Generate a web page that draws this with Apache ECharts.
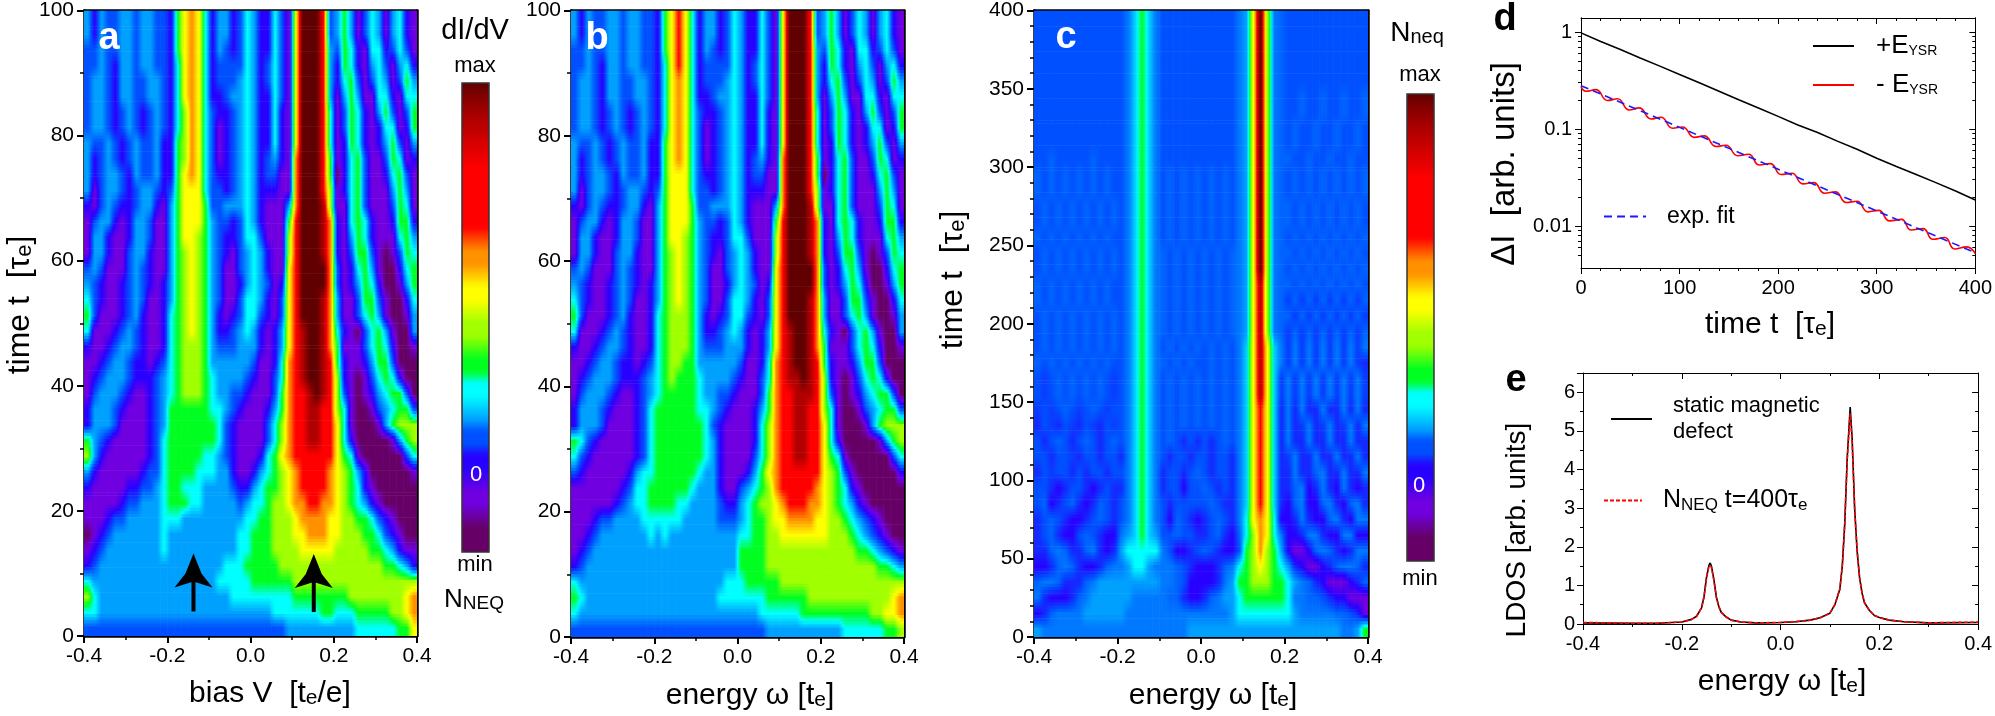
<!DOCTYPE html>
<html><head><meta charset="utf-8">
<script src="https://cdn.jsdelivr.net/npm/echarts@6/dist/echarts.min.js"></script>
<style>html,body{margin:0;padding:0;background:#fff}#c{width:1995px;height:716px}</style>
</head><body><div id="c"></div>
<script>
// Colour levels: 0 purple ... 5 cyan, 6 green, 8 yellow, 10 red, 12 darkest red.
const levelColors = ['#660066','#7000e0','#2800ff','#0050ff','#00a0ff','#00ffff','#00ff20','#a0ff00','#ffff00','#ff9000','#ff0000','#b00000','#600000'];
const levelChars = {A:10,B:11,C:12,a:2.5,b:3.5,c:4.5,d:2.75,e:3.25};
const barLevels = [0,0,0,0.5,1,1,1.5,2,2,3,3,4,4.5,5,5,6,6,6.5,7,7,7.5,8,8,8.5,9,9,9.5,10,10,10,10,10,10,10.3,10.5,10.8,11,11.3,11.6,12];

const heatA = [
'424334 434433 268985 244235 422531 8CCCA3 464135 414521',
'424334 434433 268985 244235 422531 8CCCA3 464135 414521',
'334334 434433 268985 243235 422531 8CCCA4 365215 523531',
'334324 434433 258985 233335 423531 8CCCA4 265214 531452',
'344324 433443 258985 233345 423531 8CCCA4 256313 541364',
'344324 433443 258985 223445 422531 8CCCA4 146411 552155',
'344323 432343 257985 322345 422521 8CCCA5 136521 463136',
'344323 432343 257985 312345 422521 8CCCA5 136521 255126',
'433432 343342 267985 312345 422521 8CCCA5 126521 246314',
'423432 343342 267985 312345 423421 9CCCA6 125631 136512',
'423443 243342 268985 322345 423311 9CCCA6 025631 125631',
'413443 234432 368885 332345 422211 9CCCA7 125631 114641',
'213432 234421 468886 334445 421114 9CCCB7 115631 113651',
'134421 244311 468886 433235 421116 ACCCB9 215652 112662',
'144211 244311 468876 432235 531117 ACCCB9 214652 111564',
'144211 344211 467876 432134 542117 ACCCB9 213663 101365',
'343111 343211 467876 431134 542118 ACCCC9 312564 100256',
'432112 343212 467876 431124 543128 ACCCC9 312465 200146',
'532112 343112 467876 431135 542138 ACCCB9 411366 310025',
'631112 342112 567876 421235 532138 ACCCB9 411356 410014',
'511123 432112 567876 422345 421248 ABCCB9 521035 641004',
'211234 432112 567776 433344 421248 ABCCB9 611135 652001',
'112344 322123 567776 444444 311259 ABCCBA 621124 663000',
'123444 322234 567776 544443 211359 ABCCBA 721013 565200',
'134443 211234 567776 544332 111369 AABCBA 731012 456630',
'244432 111234 666666 554321 112469 AABBAA 751001 345663',
'244431 111234 666666 653211 113579 AABBAA 851000 146777',
'643211 111235 666666 653211 113579 AABBAA 852000 001467',
'742111 111235 666665 543211 125689 AAAAAA 865100 000035',
'421111 112335 666655 544211 245678 9AAAA9 876420 000001',
'211111 223345 665554 444322 456678 9AAAA9 876521 000000',
'111112 334445 666554 444434 556778 99AA99 876542 100000',
'111233 444445 554444 444445 566777 899998 877665 321000',
'012344 444445 444444 444455 666777 889998 877766 532100',
'123444 444445 444444 444455 666777 788888 777776 654211',
'234444 444444 444444 445556 666677 777777 777777 766542',
'544444 444444 444444 455555 666666 777777 777777 777777',
'754444 444444 444444 444555 555555 666666 667777 777789',
'554444 444444 444444 444444 444555 555566 555666 667789',
'333333 333333 333333 333333 333334 444444 444555 555668'
];

const heatB = [
'424334 434433 268A85 244235 422531 8CCCA3 464135 414521',
'424334 434433 268A85 244235 422531 8CCCA3 464135 414521',
'334334 434433 268A85 243235 422531 8CCCA4 365215 523531',
'334324 434433 258A85 233335 423531 8CCCA4 265214 531452',
'344324 433443 258985 233345 423531 8CCCA4 256313 541364',
'344324 433443 258985 223445 422531 8CCCA4 146411 552155',
'344323 432343 258985 322345 422521 8CCCA5 136521 463136',
'344323 432343 258985 312345 422521 8CCCA5 136521 255126',
'433432 343342 268985 312345 422521 8CCCA5 126521 246314',
'423432 343342 268985 312345 423421 9CCCA6 125631 136512',
'423443 243342 268885 322345 423311 9CCCA6 025631 125631',
'413443 234432 368885 332345 422211 9CCCA7 125631 114641',
'213432 234421 468886 334445 421114 9CCCB7 115631 113651',
'134421 244311 468886 433235 421116 ACCCB9 215652 112662',
'144211 244311 468876 432235 531117 ACCCB9 214652 111564',
'144211 344211 467876 432134 542117 ACCCB9 213663 101365',
'343111 343211 467876 431134 542118 ACCCC9 312564 100256',
'432112 343212 467876 431124 543128 ACCCC9 312465 200146',
'532112 343112 467876 431135 542138 ACCCB9 411366 310025',
'631112 342112 567776 421235 532138 ACCCB9 411356 410014',
'511123 432112 567776 422345 421248 ABCCB9 521035 641004',
'211234 432112 567776 433344 421248 ABCCB9 611135 652001',
'112344 322123 567766 444444 311259 ABCCBA 621124 663000',
'123444 322234 567666 544443 211359 ABBCBA 721013 565200',
'134443 211234 566666 544332 111369 AABBBA 731012 456630',
'244432 111235 666666 554321 112469 AABBAA 751001 345663',
'244431 111235 666666 653211 112579 AABBAA 851000 146777',
'653211 111235 666666 654211 112579 AABBAA 852000 001467',
'532111 111235 666666 654211 113579 AABBAA 865100 000035',
'321111 112455 666666 544211 124689 AAAAAA 876310 000002',
'111111 123556 666665 444211 345679 AAAAA9 876521 000000',
'111111 234556 666554 444322 456778 9AAA99 876542 100000',
'111233 444455 555544 444333 456678 899998 877654 321000',
'112344 444445 454444 444444 556677 888888 877765 432100',
'123444 444444 444444 444444 666677 777777 777776 654321',
'234444 444444 444444 444444 666677 777777 777777 776654',
'544444 444444 444444 444455 566666 777777 777777 777777',
'654444 444444 444444 444555 555566 666677 777777 777789',
'544444 444444 444444 444444 444555 555666 666666 677889',
'333333 333333 333333 333333 333344 444444 444555 555667'
];

const heatC = [
'333333 333333 3bc6cb 333333 33333b 48C7be 333333 333333',
'333333 333333 3bc6cb 333333 33333b 48C7be 333333 333333',
'333333 333333 3bc6cb 333333 33333b 48C7be 333333 333333',
'333333 333333 3bc6cb 333333 33333b 48C7be 333333 333333',
'333333 333333 3bc6cb 333333 33333b 48C7be 333333 333333',
'333333 333333 3bc6cb 333333 33333b 48C7be 33e33e 33e33e',
'333333 333333 3bc6cb 333333 33333b 48C7be 33e33e 33e33e',
'333333 333333 3bc6cb 333333 33333b 48C7be 3e33e3 3e33e3',
'333333 333333 3bc6cb 333333 33333b 48C7be 3e33e3 3e33e3',
'33e333 33e333 3bc6cb 333333 33333b 48C7be e33e33 e33e33',
'e3e3e3 e3e3e3 3bc6cb 3e3e3e 3e3e3b 48C7be 3e3e3e 3e3e3e',
'e3e3e3 e3e3e3 3bc6cb 3e3e3e 3e3e3b 48C7be 3e3e3e 3e3e3e',
'3e3e3e 3e3e3e 3bc6cb 3e3e3e 3e3e3b 48C7be e3e3e3 e3e3e3',
'3e3e3e 3e3e3e 3bc6cb 3e3e3e 3e3e3b 48C7be e3e3e3 e3e3e3',
'e3e3e3 e3e3e3 3bc6cb 3e3e3e 3e3e3b 48C7be 3e3e3e 3e3e3e',
'3e3e3e 3e3e3e 3bc6cb e3e3e3 e3e3eb 48C7be e3e3e3 e3e3e3',
'3e3e3e 3e3e3e 3bc6cb e3e3e3 e3e3eb 48C7be 3e3e3e 3e3e3e',
'e3e3e3 e3e3e3 3bc6cb e3e3e3 e3e3eb 48B7be e3e3e3 e3e3e3',
'e3e3e3 e3e3e3 3bc6cb e3e3e3 e3e3eb 48B7be dedede dedede',
'3e3e3e 3e3e3e 3bc6cb e3e3e3 e3e3eb 48B7be ededed ededed',
'3e3e3e 3e3e3e 3bc6cb e3e3e3 e3e3eb 48B7be dedede dedede',
'3e3e3e 3e3e3e 3bc6cb 3e3e3e 3e3e3b c8B8cb dbdbdb dbdbdb',
'e3e3e3 e3e3e3 3bc6cb e3e3e3 3e3e3b c8B8cb dbdbdb dbdbda',
'3d3e3e 3e3e3d 3bc6cb 3e3e3e 3e3e3b c8B8cd bdbdbd bdbdbd',
'3d3e3e 3e3e3d 3bc6cb 3e3e3e 3e3e3b c8B8cd bdbdbd bdbdbd',
'd3d3e3 d3e3d3 3bc6cb 3e3e3e 3e3e3b c8A8ca babaab aababa',
'a3da3d a3da3d 3bc6cb 3e3e3e 3e3e3b c8A8ca badbad badbab',
'3a3e3a 3e3a3e 3bc6cb 3e3a3a 3a3e3b c8A8ca baabaa baabaa',
'33a33d a33a33 abc6cb 3a33a3 3a33ab c8A8ca dbaaba abaaba',
'a3d33a 3a33a3 3bc6cb a33a3e 3a33ab c8A8ca abaaeb aabaab',
'33a2a3 3a2a3a abc6cb a33233 e3a3ab c8A8ca aeb2ab a2ba2a',
'3e2a3e a2ae3a 3bc6cb 3a3333 3e3aab c8A8ca 2eb22e ba2eba',
'a3e3a2 2a3e3a 3bc6cb 32e3a2 a3e3ab 589852 2aba22 eba2bb',
'a3ea22 3e3a22 b4c6c4 33e33a a3ea2e 57985b 22abba 22bb22',
'aaebea aeba2a 455555 b322a3 e3a223 679764 2112eb ea2abb',
'22aebe a22aeb b4554b bbe3a2 22aeb5 678765 4a2112 aebbea',
'ebbeaa aeb444 444444 bbe322 22ab46 677766 54bea2 1112ae',
'ba222a eb4444 44bbbb beea22 aeb445 666666 5bbee3 a22111',
'2aebbb b44444 4bbbbb bbbbbb bbbb45 555555 54bbbb bee3a1',
'4bbbbb bbbbbb bbbbbb bbbb44 444444 444444 444444 44bb46'
];

const tickLabelsLog = [1, 0.1, 0.01];
const logMinorTicks = [0.005,0.006,0.007,0.008,0.009,0.02,0.03,0.04,0.05,0.06,0.07,0.08,0.09,0.2,0.3,0.4,0.5,0.6,0.7,0.8,0.9];

const dBlackT = [0,20,40,60,80,100,120,140,160,180,200,220,240,260,280,300,320,340,360,380,400];
const dBlackV = [0.98,0.80,0.66,0.54,0.445,0.365,0.30,0.245,0.20,0.165,0.135,0.11,0.092,0.075,0.062,0.05,0.041,0.034,0.028,0.023,0.0185];
const dRedT = [0,5,15,27,37,49,59,71,81,93,103,115,125,137,147,159,170,181,192,203,214,225,236,247,258,269,280,291,302,313,325,335,347,357,369,379,391,400];
const dRedV = [0.275,0.245,0.255,0.197,0.205,0.157,0.165,0.127,0.132,0.102,0.105,0.082,0.085,0.066,0.068,0.053,0.055,0.0425,0.044,0.034,0.035,0.0272,0.028,0.0218,0.0225,0.0175,0.018,0.014,0.0145,0.0113,0.0117,0.0091,0.0094,0.0073,0.0076,0.0058,0.0061,0.0052];
const dFitT = [0,100,200,300,400];
const dFitV = [0.28,0.104,0.0385,0.0143,0.0053];

const eX = [-0.4,-0.3,-0.25,-0.2,-0.18,-0.17,-0.16,-0.155,-0.15,-0.145,-0.1425,-0.14,-0.135,-0.13,-0.125,-0.12,-0.11,-0.1,-0.08,-0.05,0,0.03,0.06,0.08,0.1,0.11,0.12,0.125,0.13,0.135,0.141,0.145,0.15,0.155,0.16,0.165,0.17,0.18,0.19,0.2,0.22,0.25,0.3,0.4];
const eBlack = [0.03,0.02,0.02,0.05,0.12,0.2,0.42,0.7,1.2,1.52,1.58,1.5,1.15,0.7,0.45,0.3,0.18,0.1,0.05,0.03,0.04,0.06,0.1,0.16,0.28,0.5,0.9,1.5,2.6,4.3,5.62,4.8,3.0,1.9,1.2,0.8,0.55,0.35,0.22,0.17,0.1,0.06,0.03,0.04];
const eRed = [0.04,0.02,0.02,0.05,0.12,0.2,0.42,0.7,1.18,1.5,1.55,1.48,1.13,0.7,0.45,0.3,0.18,0.1,0.05,0.03,0.04,0.06,0.1,0.16,0.28,0.5,0.9,1.5,2.6,4.25,5.45,4.7,3.0,1.9,1.2,0.8,0.55,0.35,0.22,0.17,0.1,0.06,0.03,0.05];

const arrowTips = [[-0.137,13.2],[0.152,13.1]];

function rgb(h){return [parseInt(h.slice(1,3),16),parseInt(h.slice(3,5),16),parseInt(h.slice(5,7),16)];}
const rgbs = levelColors.map(rgb);
function levelColor(v){
  v=Math.max(0,Math.min(12,v));const i=Math.min(11,Math.floor(v)),f=v-i,a=rgbs[i],b=rgbs[i+1];
  return 'rgb('+[0,1,2].map(k=>Math.round(a[k]+(b[k]-a[k])*f)).join(',')+')';
}
function parseRows(rows){
  return rows.map(s=>{
    const t=s.replace(/ /g,'');const o=[];
    for(let j=0;j<48;j++){const ch=t[j]!==undefined?t[j]:t[t.length-1];o.push(levelChars[ch]!==undefined?levelChars[ch]:+ch);}
    return o;
  });
}
const STRIPS=5;
function heatSeries(rows,gridIndex,xSpan,tMax){
  const g=parseRows(rows),nr=g.length,nc=48,dx=xSpan/nc,dy=tMax/nr,data=[];
  for(let r=0;r<nr;r++)for(let j=0;j<nc;j++)data.push([-xSpan/2+(j+.5)*dx,tMax*(1-(r+.5)/nr),g[r][j],r,j]);
  return {type:'custom',xAxisIndex:axisBase(gridIndex),yAxisIndex:axisBase(gridIndex),coordinateSystem:'cartesian2d',
    silent:true,animation:false,progressive:0,clip:true,z:1,data,encode:{x:0,y:1},
    renderItem(params,api){
      const x=api.value(0),y=api.value(1),r=api.value(3),j=api.value(4),children=[];
      for(let k=0;k<STRIPS;k++){
        const f=(k+.5)/STRIPS-.5;
        const at=jj=>{jj=Math.max(0,Math.min(nc-1,jj));const v=g[r][jj],n=(g[f<0?r-1:r+1]||g[r])[jj];return v+(n-v)*Math.abs(f);};
        const c=at(j),l=(at(j-1)+c)/2,q=(at(j+1)+c)/2;
        const p1=api.coord([x-dx/2,y+dy*(.5-k/STRIPS)]),p2=api.coord([x+dx/2,y+dy*(.5-(k+1)/STRIPS)]);
        children.push({type:'rect',shape:{x:p1[0],y:p1[1],width:p2[0]-p1[0]+.6,height:p2[1]-p1[1]+.6},
          style:{fill:new echarts.graphic.LinearGradient(0,0,1,0,[
            {offset:0,color:levelColor(l)},{offset:.25,color:levelColor((l+c)/2)},{offset:.5,color:levelColor(c)},
            {offset:.75,color:levelColor((c+q)/2)},{offset:1,color:levelColor(q)}])}});
      }
      return {type:'group',children};
    }};
}
const axisStart=[0,2,4,6,10];
function axisBase(g){return axisStart[g];}

const FONT='"Liberation Sans",Arial,sans-serif';
const grids=[
 {left:84,top:9,width:333,height:627},
 {left:571,top:10,width:333,height:627},
 {left:1034,top:10,width:334,height:627},
 {left:1581,top:18,width:397,height:250},
 {left:1583,top:373,width:397,height:251}
];
function xMain(g,min,max,interval,split,fs,thin){
  return {type:'value',gridIndex:g,position:'bottom',min,max,interval,splitLine:{show:false},
    axisLine:{show:true,onZero:false,lineStyle:{color:'#000',width:thin?1:2.5}},
    axisTick:{show:true,length:thin?6:7,lineStyle:{color:'#000',width:thin?1:2}},
    minorTick:{show:true,splitNumber:split,length:thin?3:4,lineStyle:{color:'#000',width:thin?1:1.5}},
    axisLabel:{show:true,fontFamily:FONT,fontSize:fs,color:'#000',margin:10,showMinLabel:true,showMaxLabel:true,hideOverlap:false,
      formatter:v=>interval<1?v.toFixed(1):String(v)}};
}
function xMirror(g,min,max,interval,split,thin){
  return {type:'value',gridIndex:g,position:'top',min,max,interval,splitLine:{show:false},
    axisLine:{show:true,onZero:false,lineStyle:{color:'#000',width:thin?1:2.5}},
    axisTick:{show:!!thin,inside:true,length:6,lineStyle:{color:'#000',width:1}},
    minorTick:{show:!!thin,splitNumber:split,length:3,lineStyle:{color:'#000',width:1}},
    axisLabel:{show:false}};
}
function yMain(g,min,max,interval,split,fs,thin){
  return {type:'value',gridIndex:g,position:'left',min,max,interval,splitLine:{show:false},
    axisLine:{show:true,onZero:false,lineStyle:{color:'#000',width:thin?1:2.5}},
    axisTick:{show:true,length:thin?6:7,lineStyle:{color:'#000',width:thin?1:2}},
    minorTick:{show:true,splitNumber:split,length:thin?3:4,lineStyle:{color:'#000',width:thin?1:1.5}},
    axisLabel:{show:true,fontFamily:FONT,fontSize:fs,color:'#000',margin:thin?8:10,showMaxLabel:max%interval===0}};
}
function yMirror(g,min,max,interval,split,thin){
  return {type:'value',gridIndex:g,position:'right',min,max,interval,splitLine:{show:false},
    axisLine:{show:true,onZero:false,lineStyle:{color:'#000',width:thin?1:2.5}},
    axisTick:{show:!!thin,inside:true,length:6,lineStyle:{color:'#000',width:1}},
    minorTick:{show:!!thin,splitNumber:split,length:3,lineStyle:{color:'#000',width:1}},
    axisLabel:{show:false}};
}
const logMin=0.00369,logMax=1.395;
function yLog(pos,values,len,labels,inside){
  return {type:'log',logBase:10,gridIndex:3,position:pos,min:logMin,max:logMax,splitLine:{show:false},
    axisLine:{show:true,onZero:false,lineStyle:{color:'#000',width:1}},
    axisTick:{show:true,inside:!!inside,length:len,customValues:values,lineStyle:{color:'#000',width:1}},
    minorTick:{show:false},
    axisLabel:labels?{show:true,fontFamily:FONT,fontSize:20,color:'#000',margin:9,customValues:labels,formatter:v=>String(v)}:{show:false}};
}
const xAxis=[
 xMain(0,-0.4,0.4,0.2,2,21),xMirror(0,-0.4,0.4,0.2,2),
 xMain(1,-0.4,0.4,0.2,2,21),xMirror(1,-0.4,0.4,0.2,2),
 xMain(2,-0.4,0.4,0.2,2,21),xMirror(2,-0.4,0.4,0.2,2),
 xMain(3,0,400,100,5,20,true),xMirror(3,0,400,100,5,true),{type:'value',gridIndex:3,min:0,max:400,show:false},{type:'value',gridIndex:3,min:0,max:400,show:false},
 xMain(4,-0.4,0.4,0.2,2,20,true),xMirror(4,-0.4,0.4,0.2,2,true)
];
const yAxis=[
 yMain(0,0,100,20,2,21),yMirror(0,0,100,20,2),
 yMain(1,0,100,20,2,21),yMirror(1,0,100,20,2),
 yMain(2,0,400,50,5,21),yMirror(2,0,400,50,5),
 yLog('left',tickLabelsLog,6,tickLabelsLog),yLog('left',logMinorTicks,3),yLog('right',tickLabelsLog,6,null,true),yLog('right',logMinorTicks,3,null,true),
 yMain(4,0,6.5,1,2,20,true),yMirror(4,0,6.5,1,2,true)
];
const zip=(a,b)=>a.map((v,i)=>[v,b[i]]);
function lineSeries(name,x,y,gi,color,dash,smooth,z){
  return {type:'line',name,xAxisIndex:axisBase(gi),yAxisIndex:axisBase(gi),data:zip(x,y),symbol:'none',showSymbol:false,smooth:smooth,
    animation:false,z:z||3,silent:true,lineStyle:{color,width:1.6,type:dash||'solid'},itemStyle:{color}};
}
const series=[
 heatSeries(heatA,0,0.8,100),heatSeries(heatB,1,0.8,100),heatSeries(heatC,2,0.8,400),
 {type:'custom',xAxisIndex:0,yAxisIndex:0,silent:true,animation:false,z:5,data:arrowTips,encode:{x:0,y:1},
  renderItem(params,api){
    const p=api.coord([api.value(0),api.value(1)]);
    return {type:'group',x:p[0],y:p[1],children:[
      {type:'polygon',shape:{points:[[0,0],[-8,20],[-19,34],[0,28],[19,34],[8,20]]},style:{fill:'#000'}},
      {type:'rect',shape:{x:-2,y:26,width:4,height:32},style:{fill:'#000'}}]};
  }},
 lineSeries('+EYSR',dBlackT,dBlackV,3,'#000'),
 lineSeries('-EYSR',dRedT,dRedV,3,'#f00',null,0.5),
 lineSeries('exp. fit',dFitT,dFitV,3,'#1a1aff',[8,5],false,4),
 lineSeries('static magnetic defect',eX,eBlack,4,'#000'),
 lineSeries('NNEQ t=400τe',eX,eRed,4,'#f00',[4,2],false,4)
];
function legendOf(name,left,top,w,fmt,rich){
  return {show:true,left,top,padding:0,itemWidth:w,itemHeight:14,data:[name],selectedMode:false,formatter:()=>fmt,
    itemStyle:{opacity:0},textStyle:{fontFamily:FONT,color:'#000',rich}};
}
const richE={m:{fontFamily:FONT,fontSize:26,color:'#000',padding:[0,0,0,17]},s:{fontFamily:FONT,fontSize:14,color:'#000',padding:[10,0,0,0]}};
const legend=[
 legendOf('+EYSR',1812,33,41,'{m|+E}{s|YSR}',richE),
 legendOf('-EYSR',1812,72,41,'{m|- E}{s|YSR}',richE),
 legendOf('exp. fit',1603,205,42,'{m|exp. fit}',{m:{fontFamily:FONT,fontSize:23,color:'#000',padding:[0,0,0,16]}}),
 legendOf('static magnetic defect',1610,395,41,'{m|static magnetic}\n{m|defect}',{m:{fontFamily:FONT,fontSize:22,color:'#000',lineHeight:26,padding:[0,0,0,16]}}),
 legendOf('NNEQ t=400τe',1603,488,38,'{f|N}{s|NEQ}{m| t=400τ}{s|e}',{f:{fontFamily:FONT,fontSize:25,color:'#000',padding:[0,0,0,16]},m:{fontFamily:FONT,fontSize:25,color:'#000'},s:{fontFamily:FONT,fontSize:17,color:'#000',padding:[9,0,0,0]}})
];
const sty=(m,s)=>({m:{fontFamily:FONT,fontSize:m,color:'#000'},s:{fontFamily:FONT,fontSize:s,color:'#000',padding:[Math.round(m*.3),0,0,0]}});
function label(x,y,text,m,s,rot){
  return {type:'text',x,y,rotation:rot?Math.PI/2:0,z:100,silent:true,
    style:{text,rich:sty(m,s),align:'center',verticalAlign:'middle',fontFamily:FONT,fontSize:m,fill:'#000'}};
}
function plain(x,y,text,size,color,bold){
  return {type:'text',x,y,z:100,silent:true,style:{text,align:'center',verticalAlign:'middle',fontFamily:FONT,fontSize:size,fontWeight:bold?'bold':'normal',fill:color||'#000'}};
}
const barBox=(x,y,w,h)=>({type:'rect',z:100,silent:true,shape:{x,y,width:w,height:h},style:{fill:'none',stroke:'#333',lineWidth:1.5}});
const graphic=[
 plain(109,39,'a',38,'#fff',true),plain(597,39,'b',38,'#fff',true),plain(1066,38,'c',38,'#fff',true),
 plain(1505,20,'d',38,'#000',true),plain(1516,381,'e',38,'#000',true),
 label(270,694,'{m|bias V  [t}{s|e}{m|/e]}',30,21),
 label(750,696,'{m|energy ω [t}{s|e}{m|]}',30,21),
 label(1213,696,'{m|energy ω [t}{s|e}{m|]}',30,21),
 label(20,305,'{m|time t  [τ}{s|e}{m|]}',32,22,true),
 label(953,280,'{m|time t  [τ}{s|e}{m|]}',32,22,true),
 label(1505,164,'{m|ΔI  [arb. units]}',33,22,true),
 label(1770,325,'{m|time t  [τ}{s|e}{m|]}',30,21),
 label(1517,530,'{m|LDOS [arb. units]}',28,20,true),
 label(1782,682,'{m|energy ω [t}{s|e}{m|]}',30,21),
 plain(475,31,'dI/dV',29),plain(475,66,'max',22),plain(475,565,'min',22),plain(476,475,'0',22,'#fff'),
 label(474,600,'{m|N}{s|NEQ}',26,19),
 label(1417,33,'{m|N}{s|neq}',28,20),plain(1420,75,'max',22),plain(1420,579,'min',22),plain(1419,486,'0',22,'#fff'),
 barBox(462,83,27,469),barBox(1407,94,27,467)
];
const barColors=barLevels.map(levelColor);
const bar=(left,top,h)=>({type:'continuous',show:true,seriesIndex:[],min:0,max:1,left,top,itemWidth:27,itemHeight:h,padding:0,calculable:false,realtime:false,showLabel:false,text:null,inRange:{color:barColors},outOfRange:{color:barColors}});
const chart=echarts.init(document.getElementById('c'),null,{renderer:'canvas'});
chart.setOption({animation:false,backgroundColor:'#fff',grid:grids,xAxis,yAxis,series,legend,graphic,visualMap:[bar(462,83,469),bar(1407,94,467)]});
</script></body></html>
